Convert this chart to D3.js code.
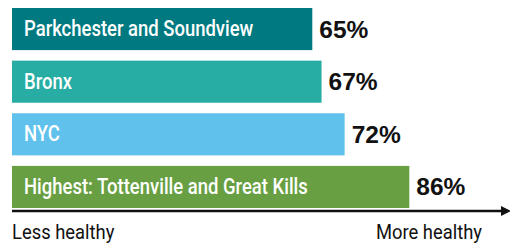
<!DOCTYPE html>
<html>
<head>
<meta charset="utf-8">
<script src="https://cdn.jsdelivr.net/npm/d3@7"></script>
<style>
  body { margin: 0; background: #fff; }
  .bar-label { font-family: "Roboto", sans-serif; font-weight: 500; fill: #fff; font-size: 22px; }
  .value { font-family: "Liberation Sans", Arial, sans-serif; font-weight: bold; font-size: 24.5px; fill: #111; }
  .end-label { font-family: "Roboto", sans-serif; font-size: 20px; fill: #111; }
</style>
</head>
<body>
<div id="chart"></div>
<script>
const width = 510,
   height = 245,
   margin = {top: 8, left: 12, bottom: 47},
   squeeze = 0.84;

const categories = ['Parkchester and Soundview', 'Bronx', 'NYC', 'Highest: Tottenville and Great Kills'];
const values = [65, 67, 72, 86];
const colors = ['#007a80', '#27ada3', '#60c2ec', '#679f42'];
const endLabels = ['Less healthy', 'More healthy'];

const svg = d3.select('#chart')
   .append('svg')
   .attr('width', width)
   .attr('height', height);

const xScale = d3.scaleLinear()
   .domain([0, 100])
   .range([margin.left, margin.left + 462]);

const yScale = d3.scaleBand()
   .domain(categories)
   .range([margin.top, margin.top + 200])
   .paddingInner(0.2)
   .paddingOuter(0);

const bars = svg.selectAll('.bar')
   .data(categories)
   .join('g')
   .attr('class', 'bar');

bars.append('rect')
   .attr('x', xScale(0))
   .attr('y', d => yScale(d))
   .attr('width', (d, i) => xScale(values[i]) - xScale(0))
   .attr('height', yScale.bandwidth())
   .attr('fill', (d, i) => colors[i]);

bars.append('text')
   .attr('class', 'bar-label')
   .attr('transform', d => `translate(${xScale(0) + 12}, ${yScale(d) + yScale.bandwidth() / 2 + 7}) scale(${squeeze}, 1)`)
   .text(d => d);

bars.append('text')
   .attr('class', 'value')
   .attr('x', (d, i) => xScale(values[i]) + 7)
   .attr('y', d => yScale(d) + yScale.bandwidth() / 2 + 8.5)
   .text((d, i) => `${values[i]}%`);

// axis arrow
const axisY = 211;
svg.append('defs')
   .append('marker')
   .attr('id', 'arrow')
   .attr('viewBox', '0 0 10 10')
   .attr('refX', 0)
   .attr('refY', 5)
   .attr('markerWidth', 4)
   .attr('markerHeight', 4)
   .attr('markerUnits', 'strokeWidth')
   .attr('orient', 'auto')
   .append('path')
   .attr('d', 'M0,0L10,5L0,10Z')
   .attr('fill', '#111');

svg.append('line')
   .attr('x1', xScale(0))
   .attr('x2', width - 9)
   .attr('y1', axisY)
   .attr('y2', axisY)
   .attr('stroke', '#111')
   .attr('stroke-width', 2.5)
   .attr('marker-end', 'url(#arrow)');

svg.append('text')
   .attr('class', 'end-label')
   .attr('transform', `translate(${xScale(0)}, 239) scale(0.92, 1)`)
   .text(endLabels[0]);

svg.append('text')
   .attr('class', 'end-label')
   .attr('transform', `translate(482, 239) scale(0.92, 1)`)
   .attr('text-anchor', 'end')
   .text(endLabels[1]);
</script>
</body>
</html>
